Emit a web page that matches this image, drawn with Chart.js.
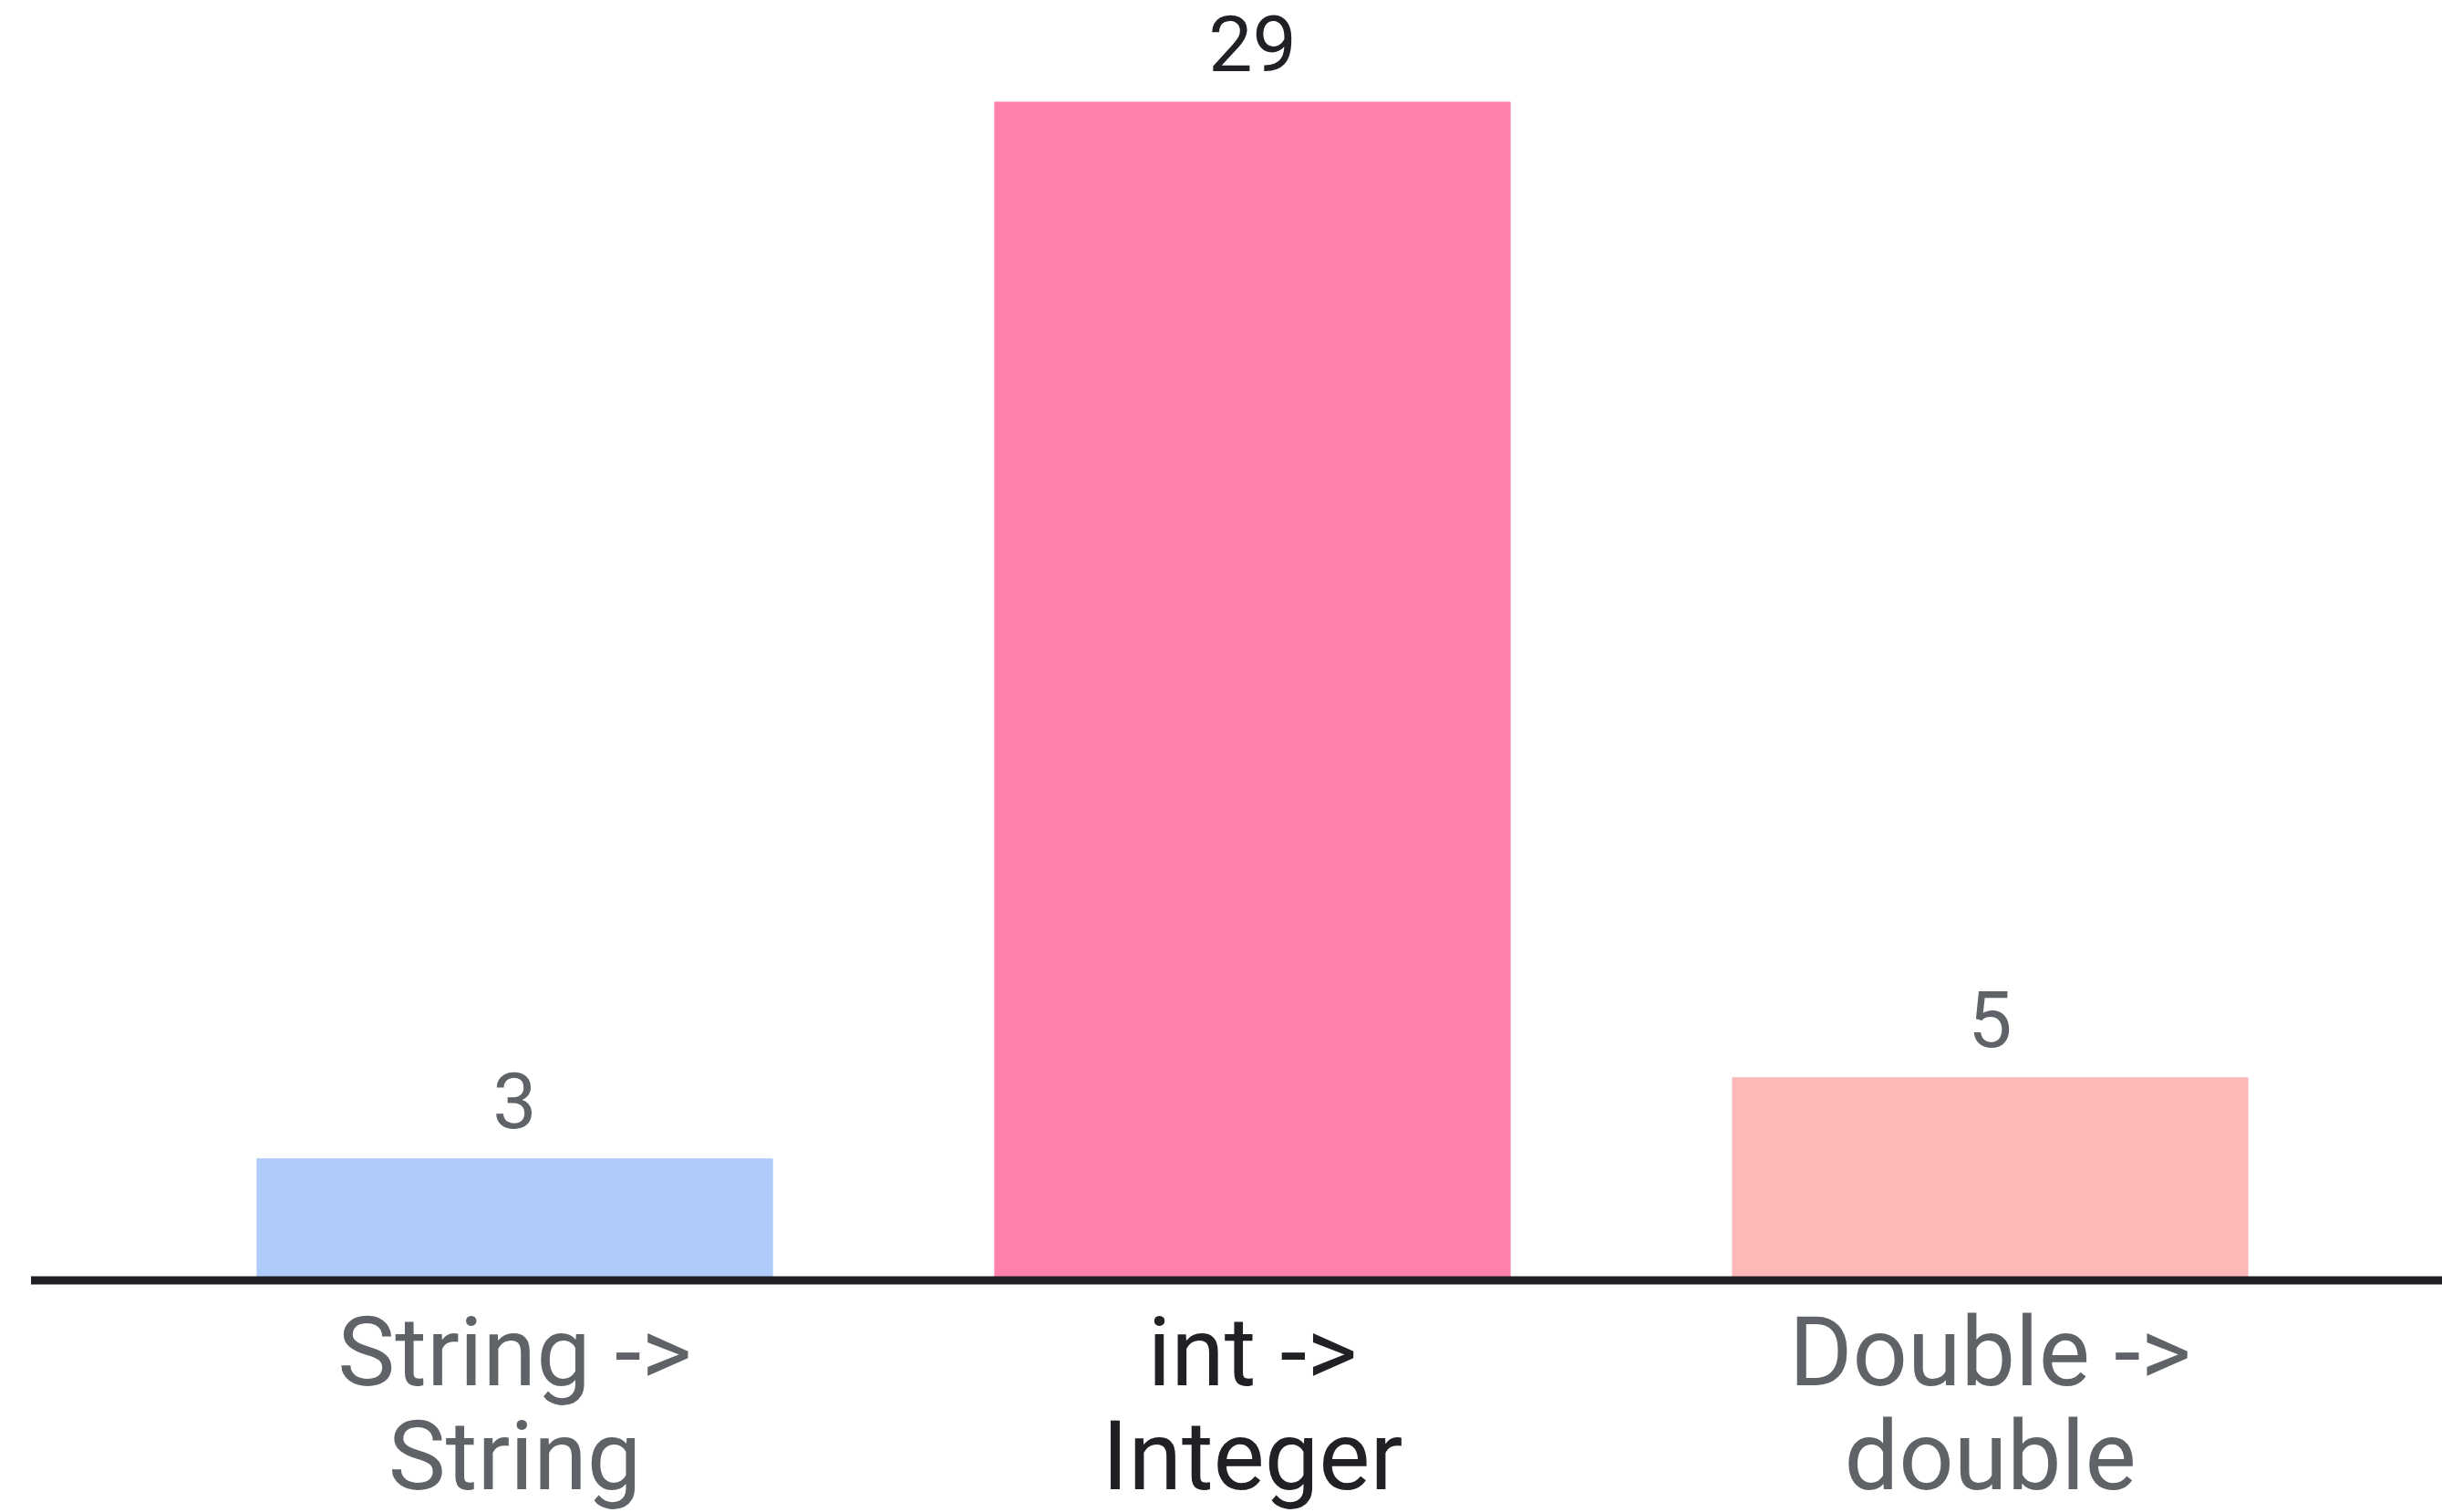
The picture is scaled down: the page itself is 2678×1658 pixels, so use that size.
<!DOCTYPE html>
<html>
<head>
<meta charset="utf-8">
<script src="https://cdn.jsdelivr.net/npm/chart.js@4"></script>
<style>
  html, body { margin: 0; padding: 0; background: #ffffff; }
  #wrap { width: 2678px; height: 1658px; position: relative; }
</style>
</head>
<body>
<div id="wrap"><canvas id="boxingChart"></canvas></div>
<script>
// Chart data
const categories = [['String ->', 'String'], ['int ->', 'Integer'], ['Double ->', 'double']];
const counts = [3, 29, 5];
const barColors = ['#aecbfa', '#ff80a8', '#fdb8b8'];
const labelColors = ['#5f6368', '#202124', '#5f6368'];

const FONT = 'Roboto, "Noto Sans", sans-serif';

// Baseline across the full width, on the zero of the y scale
const baselinePlugin = {
    id: 'baseline',
    afterDatasetsDraw(chart) {
        const ctx = chart.ctx;
        const y = chart.scales.y.getPixelForValue(0);
        ctx.save();
        ctx.strokeStyle = '#202124';
        ctx.lineWidth = 9;
        ctx.beginPath();
        ctx.moveTo(34, y);
        ctx.lineTo(chart.width, y);
        ctx.stroke();
        ctx.restore();
    }
};

// Value labels above each bar
const valueLabelPlugin = {
    id: 'valueLabels',
    afterDatasetsDraw(chart) {
        const ctx = chart.ctx;
        const meta = chart.getDatasetMeta(0);
        ctx.save();
        ctx.font = '86px ' + FONT;
        ctx.textAlign = 'center';
        ctx.textBaseline = 'alphabetic';
        meta.data.forEach(function(bar, i) {
            ctx.fillStyle = labelColors[i];
            ctx.fillText(String(counts[i]), bar.x, bar.y - 33);
        });
        ctx.restore();
    }
};

new Chart(document.getElementById('boxingChart'), {
    type: 'bar',
    data: {
        labels: categories,
        datasets: [{
            data: counts,
            backgroundColor: barColors,
            borderWidth: 0,
            barPercentage: 0.7,
            categoryPercentage: 1.0
        }]
    },
    options: {
        responsive: true,
        maintainAspectRatio: false,
        animation: false,
        devicePixelRatio: 1,
        layout: { padding: { left: 160, right: 91, top: 0, bottom: 0 } },
        plugins: {
            legend: { display: false },
            tooltip: { enabled: false }
        },
        scales: {
            x: {
                grid: { display: false },
                border: { display: false },
                ticks: {
                    color: labelColors,
                    padding: 24,
                    maxRotation: 0,
                    autoSkip: false,
                    font: { family: FONT, size: 106, lineHeight: 1.07 }
                },
                afterFit(scale) { scale.height = 254; }
            },
            y: {
                display: false,
                min: 0,
                max: 31.5
            }
        }
    },
    plugins: [baselinePlugin, valueLabelPlugin]
});
</script>
</body>
</html>
